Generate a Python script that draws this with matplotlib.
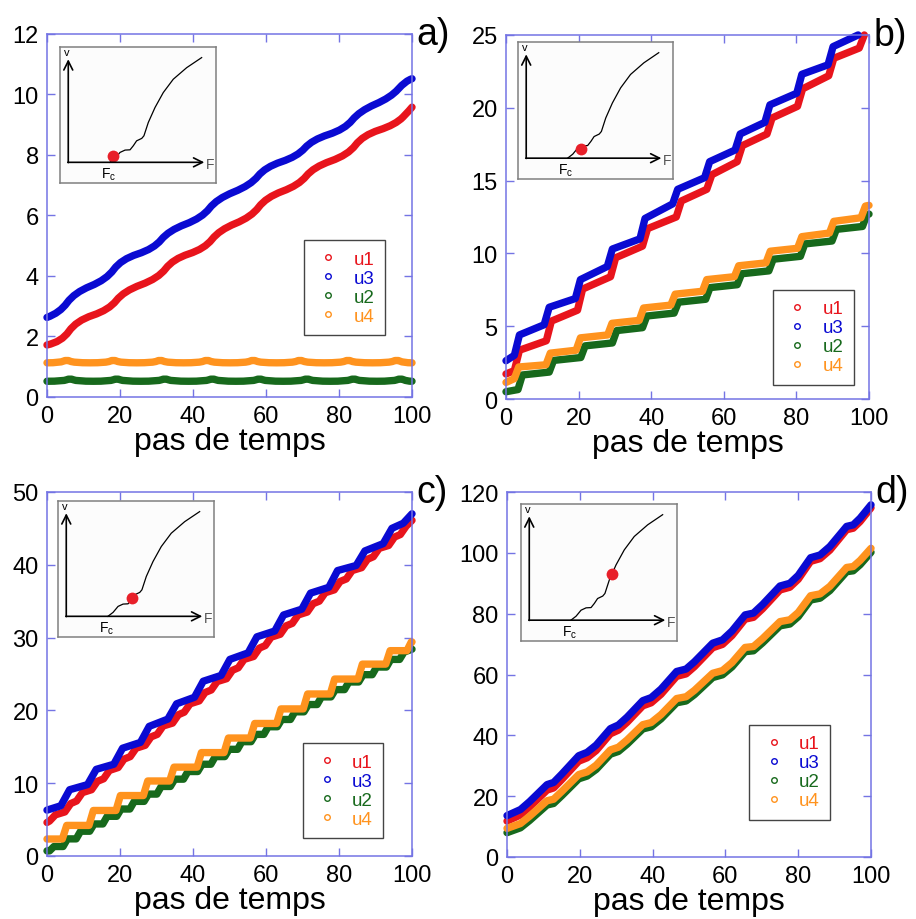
import matplotlib
matplotlib.use('Agg')
import matplotlib.pyplot as plt
from matplotlib.lines import Line2D
from matplotlib.path import Path
from matplotlib.patches import PathPatch

plt.rcParams['font.family'] = ['Liberation Sans', 'DejaVu Sans']
plt.rcParams['mathtext.fontset'] = 'custom'
plt.rcParams['mathtext.rm'] = 'Liberation Sans'
plt.rcParams['mathtext.it'] = 'Liberation Sans'

RED = '#e8141c'
BLUE = '#0a0ad2'
GREEN = '#17691c'
ORANGE = '#ff931e'
SPINE = '#7474e4'

# ---- panel a : u1/u3 wavy ramps, u2/u4 flat with small bumps
a_u1_v0, a_u1_end = 1.72, 9.58
a_u1_tj = [6.0, 19.0, 32.5, 45.2, 58.0, 71.0, 84.5, 97.5]
a_u1_lo = [1.82, 2.88, 3.92, 4.90, 5.95, 7.00, 8.00, 9.00]
a_u1_hi = [2.52, 3.50, 4.56, 5.52, 6.60, 7.60, 8.65, 9.50]

a_u3_v0, a_u3_end = 2.63, 10.52
a_u3_tj = [5.5, 18.3, 31.3, 44.5, 57.8, 70.6, 83.6, 96.2]
a_u3_lo = [2.78, 3.88, 4.90, 5.92, 7.00, 7.95, 8.85, 9.90]
a_u3_hi = [3.45, 4.55, 5.50, 6.55, 7.60, 8.50, 9.45, 10.45]

a_u2_base, a_u2_peak = 0.52, 0.62
a_u2_bumps = [6.3, 19.1, 32.3, 45.3, 58.2, 71.2, 84.0, 96.8]
a_u4_base, a_u4_peak = 1.13, 1.24
a_u4_bumps = [5.4, 18.2, 31.0, 43.8, 56.5, 69.3, 82.5, 95.8]

# ---- panel b : staircases
b_u1_v0, b_u1_end = 1.72, 25.0
b_u1_tj = [3.0, 11.8, 20.4, 29.5, 38.3, 47.6, 56.0, 64.4, 72.6, 81.0, 89.6, 98.0]
b_u1_lo = [1.95, 4.00, 6.10, 8.40, 10.50, 12.50, 14.40, 16.30, 18.20, 20.10, 22.20, 24.10]
b_u1_hi = [3.35, 5.35, 7.55, 9.70, 11.70, 13.60, 15.40, 17.40, 19.30, 21.30, 23.40, 25.00]

b_u3_v0, b_u3_end = 2.63, 25.0
b_u3_tj = [3.0, 11.2, 19.8, 28.6, 37.6, 46.6, 55.4, 63.8, 72.0, 80.8, 89.4]
b_u3_lo = [3.00, 5.10, 6.90, 9.10, 11.00, 13.40, 15.20, 17.10, 19.00, 21.00, 22.95]
b_u3_hi = [4.40, 6.30, 8.20, 10.30, 12.40, 14.40, 16.30, 18.20, 20.20, 22.30, 24.20]

b_u2_v0, b_u2_end = 0.50, 12.7
b_u2_tj = [3.9, 12.5, 21.2, 29.9, 38.2, 46.9, 55.6, 64.3, 73.0, 81.7, 90.4, 98.8]
b_u2_lo = [0.65, 1.85, 2.85, 3.85, 4.90, 5.90, 6.85, 7.85, 8.80, 9.80, 10.85, 11.85]
b_u2_hi = [1.65, 2.65, 3.65, 4.70, 5.70, 6.65, 7.65, 8.60, 9.60, 10.65, 11.65, 12.65]

b_u4_v0, b_u4_end = 1.14, 13.3
b_u4_tj = [2.9, 11.6, 19.9, 28.6, 37.3, 46.0, 54.7, 63.5, 72.2, 80.9, 89.7, 98.4]
b_u4_lo = [1.40, 2.35, 3.35, 4.40, 5.40, 6.45, 7.40, 8.40, 9.35, 10.35, 11.40, 12.45]
b_u4_hi = [2.20, 3.15, 4.20, 5.20, 6.25, 7.20, 8.20, 9.15, 10.15, 11.15, 12.20, 13.25]

# ---- panel c
c_u1_v0, c_u1_end = 4.6, 46.1
c_u1_tj = [1.5, 5.7, 8.9, 13.0, 16.3, 20.3, 23.6, 27.7, 31.0, 35.2, 38.4, 42.5, 45.8, 50.0,
           53.2, 57.4, 60.6, 64.7, 68.0, 72.1, 75.4, 79.5, 82.8, 87.0, 90.2, 94.4, 97.6]
c_u1_lo = [4.80, 6.05, 7.55, 9.10, 10.60, 12.15, 13.65, 15.20, 16.70, 18.25, 19.75, 21.30,
           22.80, 24.35, 25.85, 27.40, 28.90, 30.45, 31.95, 33.50, 35.00, 36.55, 38.05,
           39.60, 41.10, 42.65, 44.15]
c_u1_hi = [5.65, 7.20, 8.70, 10.25, 11.75, 13.30, 14.80, 16.35, 17.85, 19.40, 20.90, 22.45,
           23.95, 25.50, 27.00, 28.55, 30.05, 31.60, 33.10, 34.65, 36.15, 37.70, 39.20,
           40.75, 42.25, 43.80, 45.30]

c_u3_v0, c_u3_end = 6.3, 47.0
c_u3_tj = [5.0, 12.3, 19.5, 26.8, 34.3, 41.6, 48.9, 56.3, 63.6, 71.0, 78.4, 85.9, 93.3, 98.8]
c_u3_lo = [6.9, 9.8, 12.6, 15.6, 18.8, 21.8, 24.8, 27.9, 30.9, 33.9, 36.9, 39.9, 42.9, 45.7]
c_u3_hi = [9.1, 11.9, 14.8, 17.8, 20.9, 24.0, 27.0, 30.1, 33.1, 36.1, 39.2, 41.9, 45.0, 47.0]

c_u2_v0, c_u2_end = 0.7, 28.4
c_u2_tj = [1.3, 5.0, 8.6, 12.3, 15.9, 19.7, 23.3, 27.2, 30.7, 34.4, 38.0, 41.9, 45.5, 49.3,
           52.8, 56.5, 60.0, 63.7, 67.3, 71.0, 74.6, 78.4, 82.1, 86.0, 89.7, 93.6, 97.2]
c_u2_lev = [1.3, 2.35, 3.4, 4.4, 5.45, 6.45, 7.5, 8.5, 9.55, 10.55, 11.6, 12.6, 13.65, 14.65,
            15.7, 16.7, 17.75, 18.75, 19.8, 20.8, 21.85, 22.85, 23.9, 24.9, 25.95, 27.0, 28.0]

c_u4_v0, c_u4_end = 2.33, 29.4
c_u4_tj = [4.8, 12.1, 19.5, 27.0, 34.2, 41.7, 49.1, 56.3, 63.5, 70.8, 78.2, 85.8, 93.4, 99.2]
c_u4_lev = [4.2, 6.25, 8.3, 10.3, 12.2, 14.2, 16.2, 18.2, 20.2, 22.25, 24.3, 26.35, 28.2, 29.4]

# ---- panel d : knots of the four curves
d_t = [0, 3.7, 6.2, 11.0, 12.8, 15.0, 19.7, 22.0, 24.5, 28.4, 30.6, 33.0, 37.3, 39.6, 42.3,
       46.6, 49.2, 51.5, 56.5, 59.2, 61.8, 65.4, 67.7, 70.2, 75.0, 77.7, 80.0, 83.4, 86.0,
       88.7, 93.3, 95.1, 97.0, 100]
d_u3 = [13.6, 15.6, 18.2, 23.8, 24.5, 27.2, 33.3, 34.4, 36.8, 42.2, 43.4, 46.0, 51.4, 52.4,
        55.2, 61.0, 61.8, 64.2, 70.3, 71.4, 74.3, 79.6, 80.2, 83.0, 89.1, 90.0, 92.6, 98.4,
        99.3, 102.1, 108.7, 109.2, 111.4, 115.8]
d_u1 = [11.8, 13.8, 16.4, 22.0, 22.7, 25.4, 31.5, 32.6, 35.0, 40.5, 41.7, 44.3, 49.7, 50.7,
        53.5, 59.4, 60.2, 62.6, 68.8, 69.9, 72.8, 78.2, 78.8, 81.6, 87.8, 88.7, 91.3, 97.2,
        98.1, 100.9, 107.6, 108.1, 110.3, 114.8]
d_u4 = [9.4, 11.0, 13.4, 18.5, 19.0, 21.5, 27.1, 28.0, 30.2, 35.2, 36.1, 38.5, 43.5, 44.2,
        46.8, 52.1, 52.7, 54.8, 60.4, 61.3, 63.9, 68.9, 69.2, 71.8, 77.4, 78.0, 80.4, 85.9,
        86.5, 89.0, 95.2, 95.5, 97.5, 101.5]
d_u2 = [8.0, 9.6, 12.0, 17.1, 17.6, 20.1, 25.7, 26.6, 28.8, 33.8, 34.7, 37.1, 42.1, 42.8,
        45.4, 50.7, 51.3, 53.4, 59.0, 59.9, 62.5, 67.5, 67.8, 70.4, 76.0, 76.6, 79.0, 84.5,
        85.1, 87.6, 93.8, 94.1, 96.1, 100.2]

# ---- inset sketch v(F)
sk_F = [0.32, 0.353, 0.385, 0.417, 0.449, 0.47, 0.491, 0.524, 0.538, 0.566, 0.609, 0.662,
        0.726, 0.812, 0.908]
sk_v = [0.152, 0.181, 0.225, 0.242, 0.244, 0.274, 0.31, 0.328, 0.347, 0.445, 0.555, 0.665,
        0.763, 0.848, 0.922]
dot_F = [0.338, 0.409, 0.474, 0.585]
dot_v = [0.200, 0.222, 0.290, 0.492]

names = ['u1', 'u3', 'u2', 'u4']
colors = [RED, BLUE, GREEN, ORANGE]
letters = ['a)', 'b)', 'c)', 'd)']
ylims = [12, 25, 50, 120]
ysteps = [2, 5, 10, 20]
smooth_panel = [True, False, False, False]
LW = 5.3


def stair(v0, tj, lo, hi, v_end, w, t_end=100):
    t, v = [0.0], [v0]
    for tc, a, b in zip(tj, lo, hi):
        t += [tc - w, tc + w]
        v += [a, b]
    t.append(t_end)
    v.append(v_end)
    return t, v


def flat_stair(v0, tj, lev, v_end, w):
    return stair(v0, tj, [v0] + lev[:-1], lev, v_end, w)


def bumps(base, peak, tb, w):
    t, v = [0.0], [base]
    for x in tb:
        t += [x - w, x, x + w]
        v += [base, peak, base]
    t.append(100)
    v.append(base)
    return t, v


def rounded_path(t, v):
    # quadratic bezier using the knots as control points
    pts = list(zip(t, v))
    verts, codes = [pts[0]], [Path.MOVETO]
    for k in range(1, len(pts) - 1):
        if k == len(pts) - 2:
            end = pts[-1]
        else:
            end = ((pts[k][0] + pts[k + 1][0]) / 2, (pts[k][1] + pts[k + 1][1]) / 2)
        verts += [pts[k], end]
        codes += [Path.CURVE3, Path.CURVE3]
    return Path(verts, codes)


curves = [
    [stair(a_u1_v0, a_u1_tj, a_u1_lo, a_u1_hi, a_u1_end, 2.0),
     stair(a_u3_v0, a_u3_tj, a_u3_lo, a_u3_hi, a_u3_end, 2.0),
     bumps(a_u2_base, a_u2_peak, a_u2_bumps, 1.8),
     bumps(a_u4_base, a_u4_peak, a_u4_bumps, 1.8)],
    [stair(b_u1_v0, b_u1_tj, b_u1_lo, b_u1_hi, b_u1_end, 0.7, 98.7),
     stair(b_u3_v0, b_u3_tj, b_u3_lo, b_u3_hi, b_u3_end, 0.7, 97.0),
     stair(b_u2_v0, b_u2_tj, b_u2_lo, b_u2_hi, b_u2_end, 0.6),
     stair(b_u4_v0, b_u4_tj, b_u4_lo, b_u4_hi, b_u4_end, 0.6)],
    [stair(c_u1_v0, c_u1_tj, c_u1_lo, c_u1_hi, c_u1_end, 0.8),
     stair(c_u3_v0, c_u3_tj, c_u3_lo, c_u3_hi, c_u3_end, 1.2),
     flat_stair(c_u2_v0, c_u2_tj, c_u2_lev, c_u2_end, 0.6),
     flat_stair(c_u4_v0, c_u4_tj, c_u4_lev, c_u4_end, 0.6)],
    [(d_t, d_u1), (d_t, d_u3), (d_t, d_u2), (d_t, d_u4)],
]

# axes boxes in figure fractions
main_pos = [[0.0513, 0.5674, 0.3985, 0.3946],
            [0.5524, 0.5652, 0.3963, 0.3957],
            [0.0513, 0.0685, 0.3985, 0.3957],
            [0.5535, 0.0674, 0.3974, 0.3967]]
inset_pos = [[60 / 916, 1 - 184 / 920, 156 / 916, 136 / 920],
             [518 / 916, 1 - 180 / 920, 155 / 916, 137 / 920],
             [58 / 916, 1 - 638 / 920, 156 / 916, 136 / 920],
             [521 / 916, 1 - 642 / 920, 156 / 916, 137 / 920]]
legend_anchor = [(0.704, 0.432), (0.735, 0.300), (0.700, 0.310), (0.666, 0.362)]

fig = plt.figure(figsize=(9.16, 9.2), dpi=100)

for i in range(4):
    ax = fig.add_axes(main_pos[i])
    for (t, v), col in zip(curves[i], colors):
        if smooth_panel[i]:
            ax.add_patch(PathPatch(rounded_path(t, v), fill=False, edgecolor=col, lw=LW,
                                   capstyle='round', joinstyle='round', clip_on=False))
        else:
            ax.plot(t, v, color=col, lw=LW, solid_capstyle='round',
                    solid_joinstyle='round', clip_on=False)
    ax.set_xlim(0, 100)
    ax.set_ylim(0, ylims[i])
    ax.set_xticks(range(0, 101, 20))
    ax.set_yticks(range(0, ylims[i] + 1, ysteps[i]))
    for sp in ax.spines.values():
        sp.set_color(SPINE)
        sp.set_linewidth(1.1)
    ax.tick_params(direction='in', length=6, width=1, color=SPINE, top=True, right=True,
                   labelsize=17, pad=6)
    ax.set_xlabel('pas de temps', fontsize=23, labelpad=-1)
    ax.text(1.012, 1.0, letters[i], transform=ax.transAxes, fontsize=27,
            ha='left', va='center')

    handles = [Line2D([], [], ls='none', marker='o', ms=4, mfc='none', mec=c, mew=1)
               for c in colors]
    leg = ax.legend(handles, names, loc='upper left', bbox_to_anchor=legend_anchor[i],
                    fontsize=13.5, labelcolor=colors, frameon=True, fancybox=False,
                    framealpha=1, edgecolor='#444444', borderaxespad=0,
                    handlelength=1.5, handletextpad=0.6, labelspacing=0.1, borderpad=0.55)
    leg.get_frame().set_linewidth(1.0)

    # inset with the v(F) characteristic
    ins = fig.add_axes(inset_pos[i])
    ins.set_xlim(0, 1)
    ins.set_ylim(0, 1)
    ins.set_xticks([])
    ins.set_yticks([])
    ins.set_facecolor('#fcfcfc')
    for sp in ins.spines.values():
        sp.set_color('#808080')
        sp.set_linewidth(1.1)
    ins.annotate('', xy=(0.053, 0.91), xytext=(0.053, 0.15),
                 arrowprops=dict(arrowstyle='->', lw=1.2, color='k', mutation_scale=16,
                                 shrinkA=0, shrinkB=0))
    ins.annotate('', xy=(0.925, 0.152), xytext=(0.05, 0.152),
                 arrowprops=dict(arrowstyle='->', lw=1.2, color='k', mutation_scale=16,
                                 shrinkA=0, shrinkB=0))
    ins.plot(sk_F, sk_v, color='k', lw=0.9)
    ins.plot([dot_F[i]], [dot_v[i]], 'o', color='#e8202a', ms=8.5, mec='none')
    ins.text(0.025, 0.965, 'v', fontsize=8, ha='left', va='center')
    ins.text(0.962, 0.14, 'F', fontsize=10, color='#555555', ha='center', va='center')
    ins.text(0.31, 0.065, r'F$_\mathrm{c}$', fontsize=10, ha='center', va='center')

fig.savefig('out.png', dpi=100)
